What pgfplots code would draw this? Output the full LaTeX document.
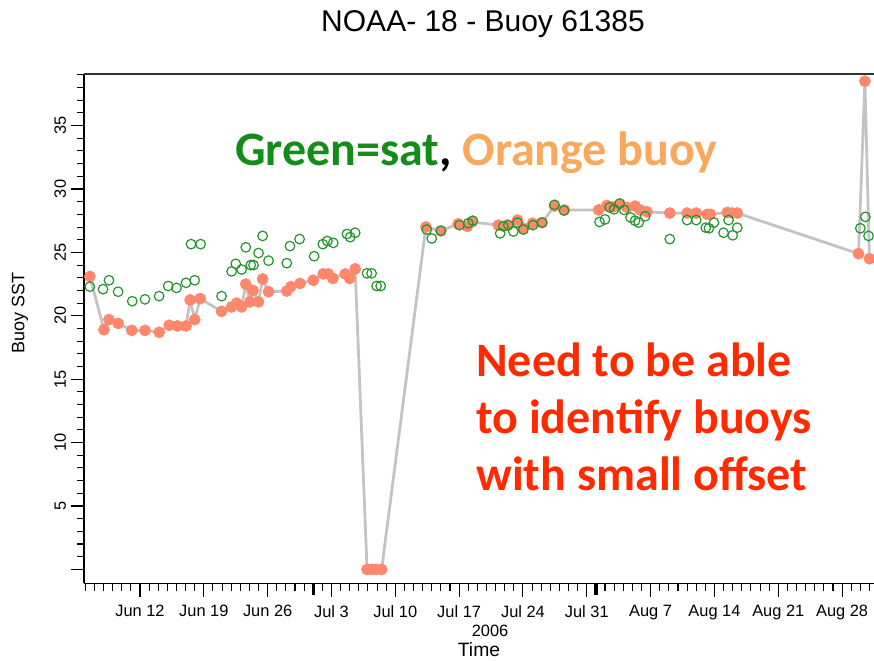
\documentclass[border=0pt]{standalone}
\usepackage{fontspec}
\setmainfont{Liberation Sans}
\newfontfamily\annofont{Carlito}
\usepackage{pgfplots}
\usepackage{pgfplotstable}
\pgfplotsset{compat=1.18}

\definecolor{buoyorange}{RGB}{255,135,108}
\definecolor{satgreen}{RGB}{34,150,44}
\definecolor{linegray}{RGB}{196,196,196}
\definecolor{notegreen}{RGB}{20,140,26}
\definecolor{noteorange}{RGB}{250,168,92}
\definecolor{notered}{RGB}{255,42,0}

% day offset: 1 = Jun 1, 2006
\pgfplotstableread{
day sst
6.5 23.1
8.05 18.9
8.6 19.7
9.6 19.4
11.1 18.85
12.55 18.85
14.1 18.7
15.2 19.25
16.1 19.2
17.05 19.2
17.5 21.25
18.0 19.7
18.6 21.35
20.95 20.35
22.05 20.7
22.6 21.0
23.15 20.7
23.6 22.5
24.05 21.1
24.4 22.0
25.0 21.1
25.45 22.9
26.1 21.9
28.1 21.95
28.55 22.3
29.55 22.55
31.0 22.8
32.1 23.3
32.65 23.3
33.15 22.95
34.5 23.3
35.0 22.95
35.6 23.7
36.9 0
37.4 0
37.9 0
38.5 0
43.35 27.0
45.0 26.7
46.9 27.25
47.9 27.05
48.4 27.4
51.3 27.15
52.25 27.15
53.4 27.55
54.05 26.9
55.05 27.3
56.1 27.35
57.45 28.65
58.55 28.35
62.3 28.35
63.2 28.7
63.95 28.6
64.65 28.8
65.4 28.55
66.3 28.65
66.85 28.35
67.6 28.2
70.1 28.1
72.0 28.1
73.0 28.1
74.2 28.0
74.55 28.0
76.4 28.15
76.95 28.1
77.5 28.1
90.8 24.9
91.5 38.5
92.0 24.5
}\buoytable

\pgfplotstableread{
day sst
6.5 22.3
7.95 22.1
8.6 22.8
9.6 21.9
11.15 21.15
12.55 21.3
14.1 21.55
15.1 22.35
16.0 22.2
17.05 22.6
17.6 25.65
18.0 22.8
18.65 25.65
20.95 21.55
22.05 23.5
22.5 24.1
23.15 23.65
23.6 25.4
24.15 24.0
24.45 24.0
25.0 24.95
25.45 26.3
26.1 24.35
28.1 24.15
28.45 25.5
29.5 26.05
31.1 24.7
32.05 25.65
32.55 25.9
33.2 25.75
34.7 26.45
35.05 26.2
35.6 26.55
36.9 23.35
37.4 23.35
37.95 22.35
38.4 22.35
43.45 26.8
44.0 26.1
45.0 26.7
47.05 27.15
48.0 27.3
48.5 27.5
51.5 26.5
51.85 27.05
52.4 27.15
52.95 26.65
53.4 27.35
54.05 26.8
55.1 27.15
56.1 27.35
57.45 28.75
58.5 28.3
62.4 27.4
63.0 27.6
63.5 28.55
64.0 28.4
64.6 28.85
65.1 28.35
65.8 27.75
66.3 27.5
66.7 27.35
67.4 27.85
70.1 26.05
72.0 27.55
73.0 27.55
74.05 26.95
74.4 26.9
74.95 27.35
76.0 26.55
76.55 27.55
77.0 26.35
77.5 26.95
91.0 26.9
91.55 27.8
91.9 26.3
}\sattable

\begin{document}
\begin{tikzpicture}
\path[use as bounding box] (-63pt,-57.5pt) rectangle (592.5pt,437.5pt);
\begin{axis}[
  at={(0,0)}, anchor=south west,
  scale only axis, width=592.5pt, height=382pt,
  xmin=5.86, xmax=92.5, ymin=-1.1, ymax=39.07,
  axis x line*=bottom, axis y line*=left,
  axis line style={-, black, line width=0.9pt},
  tick align=outside,
  tick style={black, line width=0.8pt},
  major tick length=10pt, minor tick length=5.5pt,
  /pgf/number format/assume math mode=true,
  ticklabel style={font=\fontsize{12.3}{14}\selectfont},
  xtick={12,19,...,89},
  xticklabels={Jun 12,Jun 19,Jun 26,Jul 3,Jul 10,Jul 17,Jul 24,Jul 31,Aug 7,Aug 14,Aug 21,Aug 28},
  xticklabel style={yshift=-3pt},
  minor xtick={6,...,92},
  extra x ticks={31,62},
  extra x tick labels={},
  extra x tick style={tick style={line width=2.4pt}, major tick length=9pt},
  ytick={0,5,...,35},
  yticklabels={{},5,10,15,20,25,30,35},
  minor ytick={0,...,39},
  yticklabel style={rotate=90, anchor=south},
  clip=false,
]
\draw[line width=1.2pt, black!80] (rel axis cs:0,1) -- (rel axis cs:1,1);
\addplot[color=linegray, line width=2.1pt, no marks] table[x=day, y=sst] {\buoytable};
\addplot[only marks, mark=*, mark size=4.2pt, mark options={fill=buoyorange, draw=buoyorange}] table[x=day, y=sst] {\buoytable};
\addplot[only marks, mark=o, mark size=3.6pt, mark options={draw=satgreen, line width=0.9pt}] table[x=day, y=sst] {\sattable};
\end{axis}

% titles and axis labels
\node[anchor=base, font=\fontsize{22.5}{26}\selectfont] at (299.25pt,413.5pt) {NOAA- 18 - Buoy 61385};
\node[anchor=base, font=\fontsize{14.5}{17}\selectfont] at (296.25pt,-54.5pt) {Time};
\node[anchor=base, font=\fontsize{12.3}{14}\selectfont] at (304.5pt,-40pt) {2006};
\node[rotate=90, font=\fontsize{13.5}{16}\selectfont] at (-48pt,202.7pt) {Buoy SST};

% notes
\node[anchor=base west, inner sep=0pt, font=\annofont\bfseries\fontsize{36}{43}\selectfont] at (113.25pt,313pt)
  {\textcolor{notegreen}{Green=sat}, \textcolor{noteorange}{Orange buoy}};
\node[anchor=base west, inner sep=0pt, text=notered, font=\annofont\bfseries\fontsize{36}{43}\selectfont] at (294pt,154.8pt) {Need to be able};
\node[anchor=base west, inner sep=0pt, text=notered, font=\annofont\bfseries\fontsize{36}{43}\selectfont] at (294pt,112pt) {to identify buoys};
\node[anchor=base west, inner sep=0pt, text=notered, font=\annofont\bfseries\fontsize{36}{43}\selectfont] at (294pt,69.3pt) {with small offset};
\end{tikzpicture}
\end{document}
